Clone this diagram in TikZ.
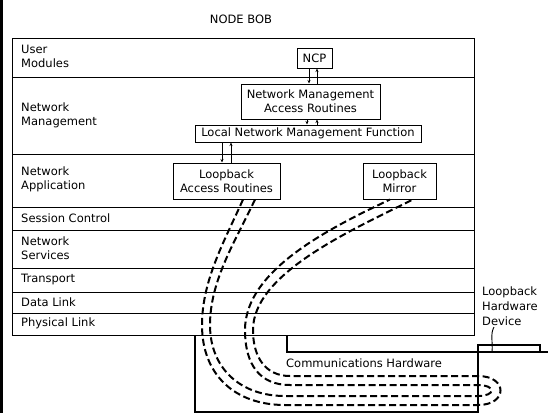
\documentclass[tikz,border=0pt]{standalone}
\usepackage{fontspec}
\setmainfont{DejaVu Sans}
\usetikzlibrary{arrows.meta}

\tikzset{
  txt/.style={font=\fontsize{11.5pt}{14pt}\selectfont, inner sep=0pt},
  layer/.style={txt, anchor=west, align=left},
  blk/.style={txt, draw, line width=1pt, align=center},
  flow/.style={line width=0.9pt, -{Stealth[length=3.5pt,width=3pt]}},
  tube/.style={line width=2pt, dash pattern=on 7pt off 3.5pt}
}

\begin{document}
\begin{tikzpicture}[x=1pt,y=-1pt]
  \useasboundingbox (0,0) rectangle (548,413);
  \draw[line width=3pt] (1.5,0) -- (1.5,413);

  \node[txt] (bob) at (241,19) {NODE BOB};

  \draw[line width=1pt] (12,38.5) rectangle (474,335);
  \foreach \y in {77.5,154,207,230,268.5,292,313.5}
    \draw[line width=1pt] (12,\y) -- (474,\y);

  \node[layer] (usr)  at (21,56)    {User\\Modules};
  \node[layer] (mgmt) at (21,115)   {Network\\Management};
  \node[layer] (app)  at (21,179.5) {Network\\Application};
  \node[layer] (ses)  at (21,218)   {Session Control};
  \node[layer] (nsv)  at (21,248.5) {Network\\Services};
  \node[layer] (trn)  at (21,279.5) {Transport};
  \node[layer] (dlk)  at (21,302)   {Data Link};
  \node[layer] (phy)  at (21,323.5) {Physical Link};

  \node[blk, minimum width=35pt, minimum height=20pt] (ncp) at (314.5,58) {NCP};
  \node[blk, minimum width=139pt, minimum height=35pt] (nmar) at (310.5,101.5)
       {Network Management\\Access Routines};
  \node[blk, minimum width=226pt, minimum height=17pt] (lnmf) at (308,133.5)
       {Local Network Management Function};
  \node[blk, minimum width=107pt, minimum height=36pt] (lar) at (226.5,181)
       {Loopback\\Access Routines};
  \node[blk, minimum width=73pt, minimum height=36pt] (mir) at (399.5,181)
       {Loopback\\Mirror};

  \draw[flow] ([xshift=-5.5pt]ncp.south) -- ([xshift=-5.5pt]ncp.south |- nmar.north);
  \draw[flow] ([xshift=2.5pt]ncp.south |- nmar.north) -- ([xshift=2.5pt]ncp.south);
  \draw[flow] ([xshift=-3.5pt]nmar.south) -- ([xshift=-3.5pt]nmar.south |- lnmf.north);
  \draw[flow] ([xshift=6.5pt]nmar.south |- lnmf.north) -- ([xshift=6.5pt]nmar.south);
  \draw[flow] ([xshift=-4.5pt]lar.north |- lnmf.south) -- ([xshift=-4.5pt]lar.north);
  \draw[flow] ([xshift=4.5pt]lar.north) -- ([xshift=4.5pt]lar.north |- lnmf.south);

  \draw[line width=1.2pt] (195,335) -- (195,412) -- (478,412);
  \draw[line width=1.2pt] (287,335) -- (287,352) -- (548,352);
  \draw[line width=1.2pt] (478,413) -- (478,345) -- (540,345) -- (540,352);
  \node[layer] (comm) at (286,363) {Communications Hardware};

  \node[layer, font=\fontsize{11.5pt}{15pt}\selectfont] (dev) at (482,306)
       {Loopback\\Hardware\\Device};
  \coordinate (devtop) at (492,352);
  \draw[line width=0.9pt] ([xshift=12pt,yshift=-21pt]dev.west)
        .. controls (490,334) and (493,342) .. (devtop);

  \draw[tube] ([xshift=16.5pt]lar.south) .. controls (225,240) and (202,280) .. (202,325)
              .. controls (202,375) and (235,405) .. (285,405) -- (478,405)
              .. controls (508,405) and (508,376) .. (478,376) -- (290,376)
              .. controls (266,376) and (253,358) .. (253,330)
              .. controls (253,275) and (345,233) .. ([xshift=13.5pt]mir.south);
  \draw[tube] ([xshift=28.5pt]lar.south) .. controls (236,240) and (210,280) .. (210,325)
              .. controls (210,368) and (240,396) .. (285,396) -- (478,396)
              .. controls (496,396) and (496,385) .. (478,385) -- (290,385)
              .. controls (260,385) and (245,365) .. (245,330)
              .. controls (245,270) and (330,228) .. ([xshift=-9.5pt]mir.south);
\end{tikzpicture}
\end{document}
